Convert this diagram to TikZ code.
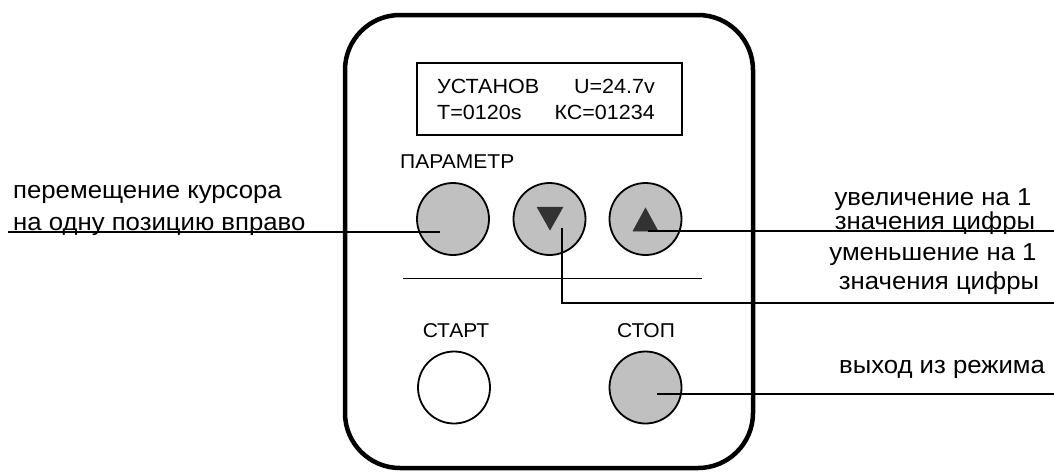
\documentclass[tikz,border=0pt]{standalone}
\usepackage{fontspec}
\setmainfont{Liberation Sans}[FakeStretch=1.05]
\begin{document}
\begin{tikzpicture}[x=1pt,y=-1pt,
  btn/.style={circle,draw,line width=1.8pt,minimum size=72pt,inner sep=0pt},
  grey/.style={fill={rgb,255:red,192;green,192;blue,192}},
  tri/.style={fill={rgb,255:red,50;green,50;blue,50},draw={rgb,255:red,50;green,50;blue,50},line width=0.5pt},
  conn/.style={line width=1.2pt},
  lcdtxt/.style={font=\fontsize{20.5}{22}\selectfont,inner sep=0pt},
  lbl/.style={font=\fontsize{20}{22}\selectfont,inner sep=0pt},
  outtxt/.style={font=\fontsize{24.5}{26}\selectfont,inner sep=0pt}]
\useasboundingbox (0,0) rectangle (1054,471);
% housing
\draw[line width=4.5pt,rounded corners=55pt] (345,15) rectangle (753,468);
% LCD
\draw[line width=2pt] (417,63) rectangle (682,135);
\node[lcdtxt,anchor=base west] (l1) at (437,93) {УСТАНОВ};
\node[lcdtxt,anchor=base east] (l2) at (655,93) {U=24.7v};
\node[lcdtxt,anchor=base west] (l3) at (437,119) {T=0120s};
\node[lcdtxt,anchor=base east] (l4) at (655,119) {КС=01234};
% labels
\node[lbl,anchor=base west] (par) at (400,168) {ПАРАМЕТР};
\node[lbl,anchor=base] (start) at (456,337) {СТАРТ};
\node[lbl,anchor=base] (stop) at (646,337) {СТОП};
% buttons
\node[btn,grey] (b1) at (453,219) {};
\node[btn,grey] (b2) at (549.5,219) {};
\node[btn,grey] (b3) at (645.5,219) {};
\node[btn,fill=white] (b4) at (454,387.5) {};
\node[btn,grey] (b5) at (645.5,387.5) {};
\fill[tri] (537,207) -- (563,207) -- (550,230) -- cycle;
\fill[tri] (645.5,208) -- (658,231) -- (633,231) -- cycle;
% separator
\coordinate (s1) at (403,278);
\coordinate (s2) at (702,278);
\draw[line width=1pt] (s1) -- (s2);
% outside texts
\node[outtxt,anchor=base west] (t1) at (13,198) {перемещение курсора};
\node[outtxt,anchor=base west] (t2) at (13,230) {на одну позицию вправо};
\node[outtxt,anchor=base] (t3) at (933,205) {увеличение на 1};
\node[outtxt,anchor=base] (t4) at (935,229) {значения цифры};
\node[outtxt,anchor=base] (t5) at (933,260) {уменьшение на 1};
\node[outtxt,anchor=base] (t6) at (939,289) {значения цифры};
\node[outtxt,anchor=base] (t7) at (942,373) {выход из режима};
% connectors
\coordinate (p1a) at (8,232);
\coordinate (p1b) at (440,232);
\draw[conn] (p1a) -- (p1b);
\coordinate (p2a) at (648,231);
\coordinate (p2b) at (1054,231);
\draw[conn] (p2a) -- (p2b);
\coordinate (p3a) at (562,228);
\coordinate (p3b) at (1054,303);
\draw[conn] (p3a) |- (p3b);
\coordinate (p4a) at (657,394);
\coordinate (p4b) at (1054,394);
\draw[conn] (p4a) -- (p4b);
\end{tikzpicture}
\end{document}
